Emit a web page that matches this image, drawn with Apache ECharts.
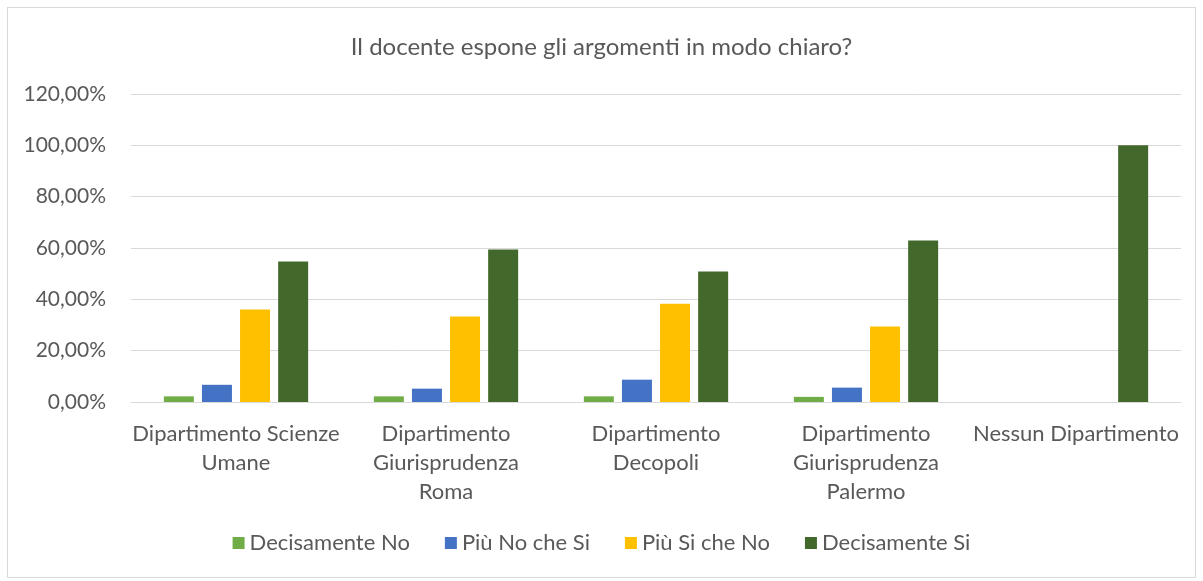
<!DOCTYPE html>
<html lang="it">
<head>
<meta charset="UTF-8">
<title>Il docente espone gli argomenti in modo chiaro?</title>
<script src="https://cdn.jsdelivr.net/npm/echarts@6/dist/echarts.min.js"></script>
<style>
  html, body { margin: 0; padding: 0; background: #fff; }
  #frame { position: absolute; left: 7px; top: 7px; width: 1187px; height: 569px; border: 1px solid #d9d9d9; }
  #chart { position: absolute; left: 0; top: 0; width: 1203px; height: 581px; }
</style>
</head>
<body>
<div id="frame"></div>
<div id="chart"></div>
<script>
// categories and values (fractions)
var categories = [
  'Dipartimento Scienze\nUmane',
  'Dipartimento\nGiurisprudenza\nRoma',
  'Dipartimento\nDecopoli',
  'Dipartimento\nGiurisprudenza\nPalermo',
  'Nessun Dipartimento'
];
var seriesNames = ['Decisamente No', 'Più No che Si', 'Più Si che No', 'Decisamente Si'];
var decisamenteNo = [0.022, 0.022, 0.022, 0.020, 0];
var piuNoCheSi    = [0.067, 0.052, 0.087, 0.056, 0];
var piuSiCheNo    = [0.360, 0.333, 0.383, 0.294, 0];
var decisamenteSi = [0.547, 0.594, 0.508, 0.629, 1.0];
var colors = ['#70ad47', '#4472c4', '#ffc000', '#43682b'];

var font = 'Lato, "Open Sans", sans-serif';
var chart = echarts.init(document.getElementById('chart'));

function pct(v) {
  return (v * 100).toFixed(2).replace('.', ',') + '%';
}

var allData = [decisamenteNo, piuNoCheSi, piuSiCheNo, decisamenteSi];

var option = {
  animation: false,
  title: {
    text: 'Il docente espone gli argomenti in modo chiaro?',
    left: 'center',
    top: 30,
    textStyle: { fontFamily: font, fontSize: 24, fontWeight: 'normal', color: '#595959' }
  },
  legend: {
    bottom: 22,
    left: 'center',
    itemWidth: 12,
    itemHeight: 12,
    itemGap: 35,
    icon: 'rect',
    textStyle: { fontFamily: font, fontSize: 22, color: '#595959' },
    data: seriesNames
  },
  grid: { left: 131, right: 22, top: 94, bottom: 179 },
  xAxis: {
    type: 'category',
    data: categories,
    axisLine: { lineStyle: { color: '#d9d9d9', width: 1 } },
    axisTick: { show: false },
    axisLabel: {
      interval: 0,
      margin: 17,
      fontFamily: font,
      fontSize: 22,
      lineHeight: 29,
      color: '#595959'
    }
  },
  yAxis: {
    type: 'value',
    min: 0,
    max: 1.2,
    interval: 0.2,
    axisLabel: {
      formatter: pct,
      margin: 25,
      fontFamily: font,
      fontSize: 21,
      color: '#595959'
    },
    splitLine: { lineStyle: { color: '#d9d9d9', width: 1 } },
    axisLine: { show: false },
    axisTick: { show: false }
  },
  series: seriesNames.map(function (name, i) {
    return {
      name: name,
      type: 'bar',
      data: allData[i],
      barWidth: 30,
      barGap: '27%',
      itemStyle: { color: colors[i] }
    };
  })
};
chart.setOption(option);
</script>
</body>
</html>
